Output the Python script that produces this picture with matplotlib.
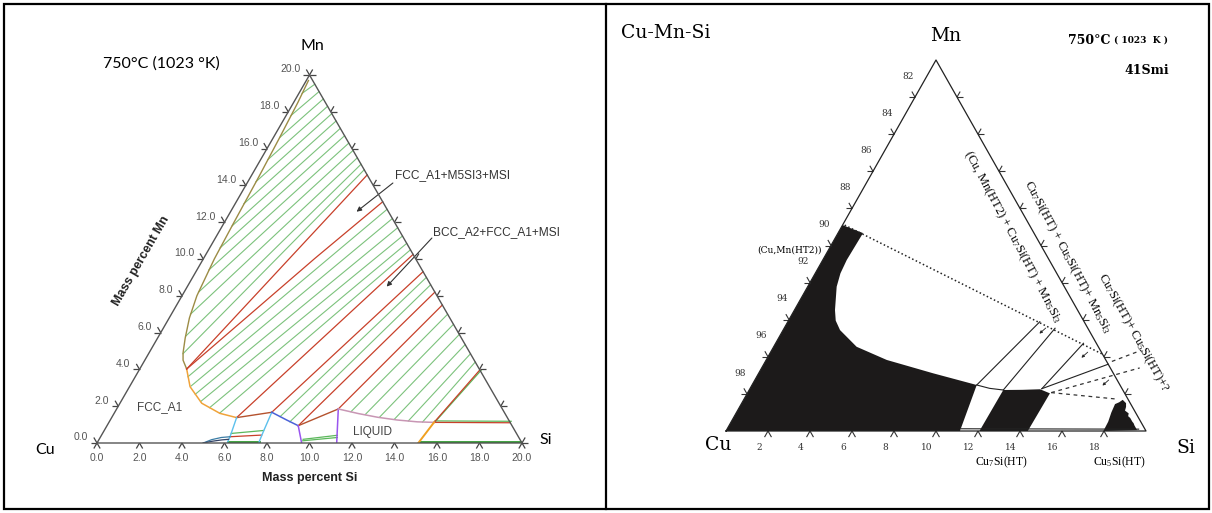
import numpy as np
import matplotlib.pyplot as plt
from matplotlib.patches import Rectangle

plt.rcParams['font.family'] = ['Liberation Sans', 'DejaVu Sans']
plt.rcParams['mathtext.fontset'] = 'custom'
plt.rcParams['mathtext.rm'] = 'Liberation Serif'
plt.rcParams['mathtext.it'] = 'Liberation Serif:italic'

W, H = 1212, 513
S3 = np.sqrt(3) / 2

# ------------------------------------------------------------------
# Left diagram (calculated), mass percent (Si, Mn)
# ------------------------------------------------------------------
l_ticks = [0, 2, 4, 6, 8, 10, 12, 14, 16, 18, 20]
l_tick_labels = ['0.0', '2.0', '4.0', '6.0', '8.0', '10.0', '12.0', '14.0', '16.0', '18.0', '20.0']

fcc_top_si = [0.1, 0.2, 0.3, 0.38, 0.45, 0.52, 0.7, 0.95, 1.3, 1.6, 1.8, 2.21]
fcc_top_mn = [19.7, 18.5, 16.5, 14.5, 12.0, 10.0, 8.0, 6.8, 5.7, 4.9, 4.5, 4.02]
fcc_low_si = [2.21, 2.85, 3.85, 4.98, 5.88]
fcc_low_mn = [4.02, 3.06, 2.16, 1.61, 1.38]

# tie lines: start on the FCC_A1 / liquid boundary, end on the 80 % Cu edge (Mn value)
tie_a_si = [0.15, 0.23, 0.3, 0.34, 0.38, 0.41, 0.46, 0.49, 0.56, 0.68, 0.9, 1.27, 1.62]
tie_a_mn = [19.0, 17.8, 16.6, 15.4, 14.2, 13.0, 11.8, 10.6, 9.4, 8.2, 7.0, 5.8, 4.85]
tie_a_end = [19.5, 19.1, 18.7, 18.3, 17.9, 17.5, 17.1, 16.7, 16.3, 15.9, 15.5, 15.15, 14.85]

tie_b_si = [2.48, 2.88, 3.3, 3.75, 4.34, 4.96]
tie_b_mn = [3.6, 3.1, 2.65, 2.25, 1.92, 1.62]
tie_b_end = [12.7, 12.2, 11.7, 11.25, 10.85, 10.5]

tie_d_si = [7.9, 8.5]
tie_d_mn = [1.43, 1.15]
tie_d_end = [9.0, 8.6]

tie_f_si = [11.1, 11.85, 12.6, 13.35, 14.05, 14.75]
tie_f_mn = [1.7, 1.55, 1.42, 1.3, 1.2, 1.14]
tie_f_end = [7.0, 6.45, 5.9, 5.35, 4.85, 4.4]

# three-phase triangle edges (red)
red_lines = [
    ([2.21, 5.43], [4.02, 14.57]),
    ([2.21, 5.24, 6.89], [4.02, 10.04, 13.11]),
    ([5.88, 9.75], [1.38, 10.25]),
    ([7.39, 10.69], [1.67, 9.31]),
    ([9.0, 11.8], [0.94, 8.2]),
    ([10.43, 12.5], [1.85, 7.5]),
    ([15.3, 16.03], [1.12, 3.97]),
    ([15.3, 18.9], [1.12, 1.1]),
    ([6.09, 7.53], [0.34, 0.43]),
]
brown_lines = [([5.88, 7.39], [1.38, 1.67]), ([9.0, 10.43], [0.94, 1.85])]
cyan_lines = [([5.88, 6.09, 6.12], [1.38, 0.34, 0.05]), ([7.39, 7.52, 7.6], [1.67, 0.61, 0.05])]
blue_si, blue_mn = [7.39, 8.3, 9.0], [1.67, 1.25, 0.94]
purple_lines = [([9.0, 9.63], [0.94, 0.0]), ([10.43, 11.28], [1.85, 0.0])]
pink_si = [10.43, 11.5, 12.5, 13.5, 14.5, 15.3]
pink_mn = [1.85, 1.6, 1.4, 1.25, 1.15, 1.12]
orange2_si, orange2_mn = [15.3, 15.12], [1.12, 0.0]
lens_a = ([5.0, 5.3, 5.7, 6.09], [0.0, 0.18, 0.3, 0.34])
lens_b = ([5.0, 5.4, 5.8, 6.09], [0.0, 0.1, 0.17, 0.2])
thin_green = [([6.06, 7.5], [0.52, 0.68]), ([9.6, 11.1], [0.2, 0.42]), ([9.62, 11.16], [0.12, 0.3]),
              ([15.3, 18.9], [1.2, 1.18]), ([15.33, 16.1], [1.12, 3.95])]
thick_green = [([6.12, 7.6], [0.06, 0.06]), ([15.2, 19.95], [0.04, 0.04])]

# ------------------------------------------------------------------
# Right diagram (experimental, 41Smi)
# ------------------------------------------------------------------
r_ticks = [2, 4, 6, 8, 10, 12, 14, 16, 18]
r_bottom_labels = ['2', '4', '6', '8', '10', '12', '14', '16', '18']
r_left_labels = ['98', '96', '94', '92', '90', '88', '86', '84', '82']

blk1_si = [0, 0, 1.19, 1.14, 1.2, 1.38, 1.93, 2.25, 2.71, 3.95, 5.74, 8.31, 10.7, 11.14]
blk1_mn = [0, 11.1, 10.67, 9.22, 8.5, 7.78, 6.52, 5.95, 5.44, 4.54, 3.83, 3.11, 2.48, 0]
blk2_si = [12.1, 13.0, 13.83, 14.41, 14.37, 12.07]
blk2_mn = [2.21, 2.22, 2.25, 2.03, 0.0, 0.0]
blk3_si = [17.97, 17.95, 17.85, 17.8, 17.95, 18.05, 18.3, 18.4, 18.45, 18.7, 18.75, 18.9, 19.1, 19.2, 19.3, 19.55]
blk3_mn = [0.0, 0.5, 1.0, 1.45, 1.55, 1.68, 1.5, 1.3, 1.1, 0.95, 0.8, 0.7, 0.5, 0.42, 0.3, 0.05]

r_solid = [
    ([10.7, 11.4, 12.1], [2.48, 2.3, 2.21]),
    ([10.7, 12.0], [2.48, 5.89]),
    ([12.1, 12.9], [2.21, 5.54]),
    ([13.9, 14.66], [2.28, 4.73]),
    ([13.9, 16.4], [2.28, 3.6]),
    ([11.14, 19.6], [0.12, 0.1]),
]
r_dotted = ([0.1, 15.95], [11.1, 4.1])
r_dashed = [([14.45, 18.0], [2.07, 3.4]), ([14.45, 17.75], [2.07, 1.72]), ([16.5, 17.6], [3.75, 4.35])]
r_arrows = [((12.45, 5.55), (12.3, 5.25)), ((15.1, 4.25), (14.95, 3.95)), ((16.85, 2.75), (16.7, 2.45))]

GREEN = '#7cc27c'
RED = '#c8402a'


def pt(si, mn):
    return si + mn / 2.0, mn * S3


def line(ax, si, mn, **kw):
    si = np.asarray(si, float)
    mn = np.asarray(mn, float)
    ax.plot(si + mn / 2.0, mn * S3, **kw)


def fxy(x, y):
    return x / W, 1 - y / H


fig = plt.figure(figsize=(W / 100, H / 100), dpi=100)


def tri_axes(x0, x1, y_base, y_apex):
    ax = fig.add_axes([x0 / W, 1 - y_base / H, (x1 - x0) / W, (y_base - y_apex) / H])
    ax.set_xlim(0, 20)
    ax.set_ylim(0, 20 * S3)
    ax.axis('off')
    return ax


def ticks(ax, side, vals, L, color, lw):
    for v in vals:
        if side == 'bottom':
            p, dirs = pt(v, 0), (240, 300)
        elif side == 'left':
            p, dirs = pt(0, v), (180, 120)
        else:
            p, dirs = pt(20 - v, v), (0, 60)
        for a in dirs:
            t = np.radians(a)
            ax.plot([p[0], p[0] + L * np.cos(t)], [p[1], p[1] + L * np.sin(t)],
                    color=color, lw=lw, clip_on=False, solid_capstyle='butt')


# frame
fig.add_artist(Rectangle((4 / W, 4 / H), 1205 / W, 505 / H, transform=fig.transFigure,
                         fill=False, edgecolor='black', lw=1.6))
fig.add_artist(plt.Line2D([606 / W, 606 / W], [4 / H, 509 / H], transform=fig.transFigure,
                          color='black', lw=1.6))

# ---------------- left panel ----------------
axl = tri_axes(97, 522, 443, 75)

for s0, m0, m1 in zip(tie_a_si + tie_b_si + tie_d_si + tie_f_si,
                      tie_a_mn + tie_b_mn + tie_d_mn + tie_f_mn,
                      tie_a_end + tie_b_end + tie_d_end + tie_f_end):
    line(axl, [s0, 20 - m1], [m0, m1], color=GREEN, lw=0.8, zorder=2)
for si, mn in thin_green:
    line(axl, si, mn, color='#5cb85c', lw=0.9, zorder=2)
for si, mn in thick_green:
    line(axl, si, mn, color='#2f9a2f', lw=2.0, zorder=3)

line(axl, fcc_top_si, fcc_top_mn, color='#9c8c45', lw=1.0, zorder=4)
line(axl, fcc_low_si, fcc_low_mn, color='#f0a33a', lw=1.1, zorder=4)
for si, mn in red_lines:
    line(axl, si, mn, color=RED, lw=0.9, zorder=4)
for si, mn in brown_lines:
    line(axl, si, mn, color='#b4522e', lw=1.0, zorder=4)
for si, mn in cyan_lines:
    line(axl, si, mn, color='#5cc0ec', lw=1.0, zorder=4)
line(axl, blue_si, blue_mn, color='#4b62d8', lw=1.1, zorder=4)
for si, mn in purple_lines:
    line(axl, si, mn, color='#9a55ee', lw=1.1, zorder=4)
line(axl, pink_si, pink_mn, color='#c896b4', lw=1.1, zorder=4)
line(axl, orange2_si, orange2_mn, color='#f0a020', lw=1.4, zorder=4)
line(axl, *lens_a, color='#3a7ca5', lw=0.9, zorder=4)
line(axl, *lens_b, color='#334466', lw=0.9, zorder=4)

line(axl, [0, 20, 0, 0], [0, 0, 20, 0], color='#555555', lw=1.0, zorder=5, clip_on=False)
ticks(axl, 'bottom', l_ticks, 0.3, '#444444', 0.9)
ticks(axl, 'left', l_ticks, 0.3, '#444444', 0.9)
ticks(axl, 'right', l_ticks, 0.3, '#444444', 0.9)

for v, lab in zip(l_ticks, l_tick_labels):
    axl.annotate(lab, pt(v, 0), xytext=(0, -11), textcoords='offset points',
                 ha='center', va='center', fontsize=7.5, color='#555555')
    axl.annotate(lab, pt(0, v), xytext=(-6.5, 4), textcoords='offset points',
                 ha='right', va='center', fontsize=7.5, color='#555555')

axl.annotate('', xy=pt(5.93, 12.57), xytext=pt(6.86, 14.13),
             arrowprops=dict(arrowstyle='-|>', color='#333333', lw=0.8, mutation_scale=7,
                             shrinkA=0, shrinkB=0))
axl.annotate('', xy=pt(9.38, 8.5), xytext=pt(10.19, 11.14),
             arrowprops=dict(arrowstyle='-|>', color='#333333', lw=0.8, mutation_scale=7,
                             shrinkA=0, shrinkB=0))

fig.text(*fxy(161, 64), '750°C (1023 °K)', family='Lato', fontsize=11.5, ha='center', va='center')
fig.text(*fxy(312, 46), 'Mn', family='Lato', fontsize=11.5, ha='center', va='center')
fig.text(*fxy(45, 450), 'Cu', family='Lato', fontsize=11.5, ha='center', va='center')
fig.text(*fxy(546, 440), 'Si', family='Lato', fontsize=11.5, ha='center', va='center')
fig.text(*fxy(310, 478), 'Mass percent Si', fontsize=9, fontweight='bold', color='#222222',
         ha='center', va='center')
fig.text(*fxy(141, 261), 'Mass percent Mn', fontsize=9, fontweight='bold', color='#222222',
         ha='center', va='center', rotation=60, rotation_mode='anchor')
fig.text(*fxy(160, 407), 'FCC_A1', fontsize=8.5, color='#444444', ha='center', va='center')
fig.text(*fxy(373, 432), 'LIQUID', fontsize=8.5, color='#444444', ha='center', va='center')
fig.text(*fxy(395, 175), 'FCC_A1+M5SI3+MSI', fontsize=8.6, color='#333333', ha='left', va='center')
fig.text(*fxy(433, 232), 'BCC_A2+FCC_A1+MSI', fontsize=8.6, color='#333333', ha='left', va='center')

# ---------------- right panel ----------------
axr = tri_axes(726, 1146, 431, 60)

for si, mn in [(blk1_si, blk1_mn), (blk2_si, blk2_mn), (blk3_si, blk3_mn)]:
    x, y = pt(np.asarray(si, float), np.asarray(mn, float))
    axr.fill(x, y, color='#1c1a1a', lw=0, zorder=2)
for si, mn in r_solid:
    line(axr, si, mn, color='#222222', lw=0.8, zorder=3)
line(axr, *r_dotted, color='#222222', lw=1.1, ls=(0, (1, 1.6)), zorder=3)
for si, mn in r_dashed:
    line(axr, si, mn, color='#333333', lw=0.9, ls=(0, (3, 3)), zorder=3, clip_on=False)
for (s1, m1), (s2, m2) in r_arrows:
    axr.annotate('', xy=pt(s2, m2), xytext=pt(s1, m1),
                 arrowprops=dict(arrowstyle='-|>', color='#222222', lw=0.6, mutation_scale=4,
                                 shrinkA=0, shrinkB=0))

line(axr, [0, 20, 0, 0], [0, 0, 20, 0], color='#222222', lw=0.9, zorder=4, clip_on=False)
ticks(axr, 'bottom', r_ticks, 0.33, '#333333', 0.8)
ticks(axr, 'left', r_ticks, 0.3, '#333333', 0.8)
ticks(axr, 'right', r_ticks, 0.3, '#333333', 0.8)

for v, lab in zip(r_ticks, r_bottom_labels):
    axr.annotate(lab, pt(v, 0), xytext=(-6.5, -12), textcoords='offset points',
                 ha='center', va='center', fontsize=6.5, family='DejaVu Serif', color='#333333')
for v, lab in zip(r_ticks, r_left_labels):
    axr.annotate(lab, pt(0, v), xytext=(-5, 15), textcoords='offset points',
                 ha='center', va='center', fontsize=6.5, family='DejaVu Serif', color='#333333')

serif = 'DejaVu Serif'
fig.text(*fxy(621, 33), 'Cu-Mn-Si', family=serif, fontsize=13.5, ha='left', va='center')
fig.text(*fxy(946, 36), 'Mn', family=serif, fontsize=13.5, ha='center', va='center')
fig.text(*fxy(718, 445), 'Cu', family=serif, fontsize=13.5, ha='center', va='center')
fig.text(*fxy(1186, 448), 'Si', family=serif, fontsize=13.5, ha='center', va='center')
fig.text(*fxy(1068, 40), '750°C', family=serif, fontsize=9, fontweight='bold', ha='left', va='center')
fig.text(*fxy(1114, 40), '( 1023  K )', family=serif, fontsize=6.5, fontweight='bold',
         ha='left', va='center')
fig.text(*fxy(1124, 71), '41Smi', family=serif, fontsize=9, fontweight='bold', ha='left', va='center')
fig.text(*fxy(790, 250), '(Cu,Mn(HT2))', family=serif, fontsize=6.5, ha='center', va='center')
fig.text(*fxy(1001, 462), 'Cu$_7$Si(HT)', family='Liberation Serif', fontsize=8.5, ha='center', va='center')
fig.text(*fxy(1119, 462), 'Cu$_5$Si(HT)', family='Liberation Serif', fontsize=8.5, ha='center', va='center')

fig.text(*fxy(1012, 237), '(Cu, Mn(HT2) + Cu$_7$Si(HT) + Mn$_5$Si$_3$', family='Liberation Serif',
         fontsize=9, rotation=-62, rotation_mode='anchor', ha='center', va='center')
fig.text(*fxy(1067, 257), 'Cu$_7$Si(HT) + Cu$_5$Si(HT)+ Mn$_5$Si$_3$', family='Liberation Serif',
         fontsize=9, rotation=-62, rotation_mode='anchor', ha='center', va='center')
fig.text(*fxy(1133, 333), 'Cu$_7$Si(HT)+ Cu$_5$Si(HT)+?', family='Liberation Serif',
         fontsize=9, rotation=-61, rotation_mode='anchor', ha='center', va='center')

fig.savefig('out.png', dpi=100)
